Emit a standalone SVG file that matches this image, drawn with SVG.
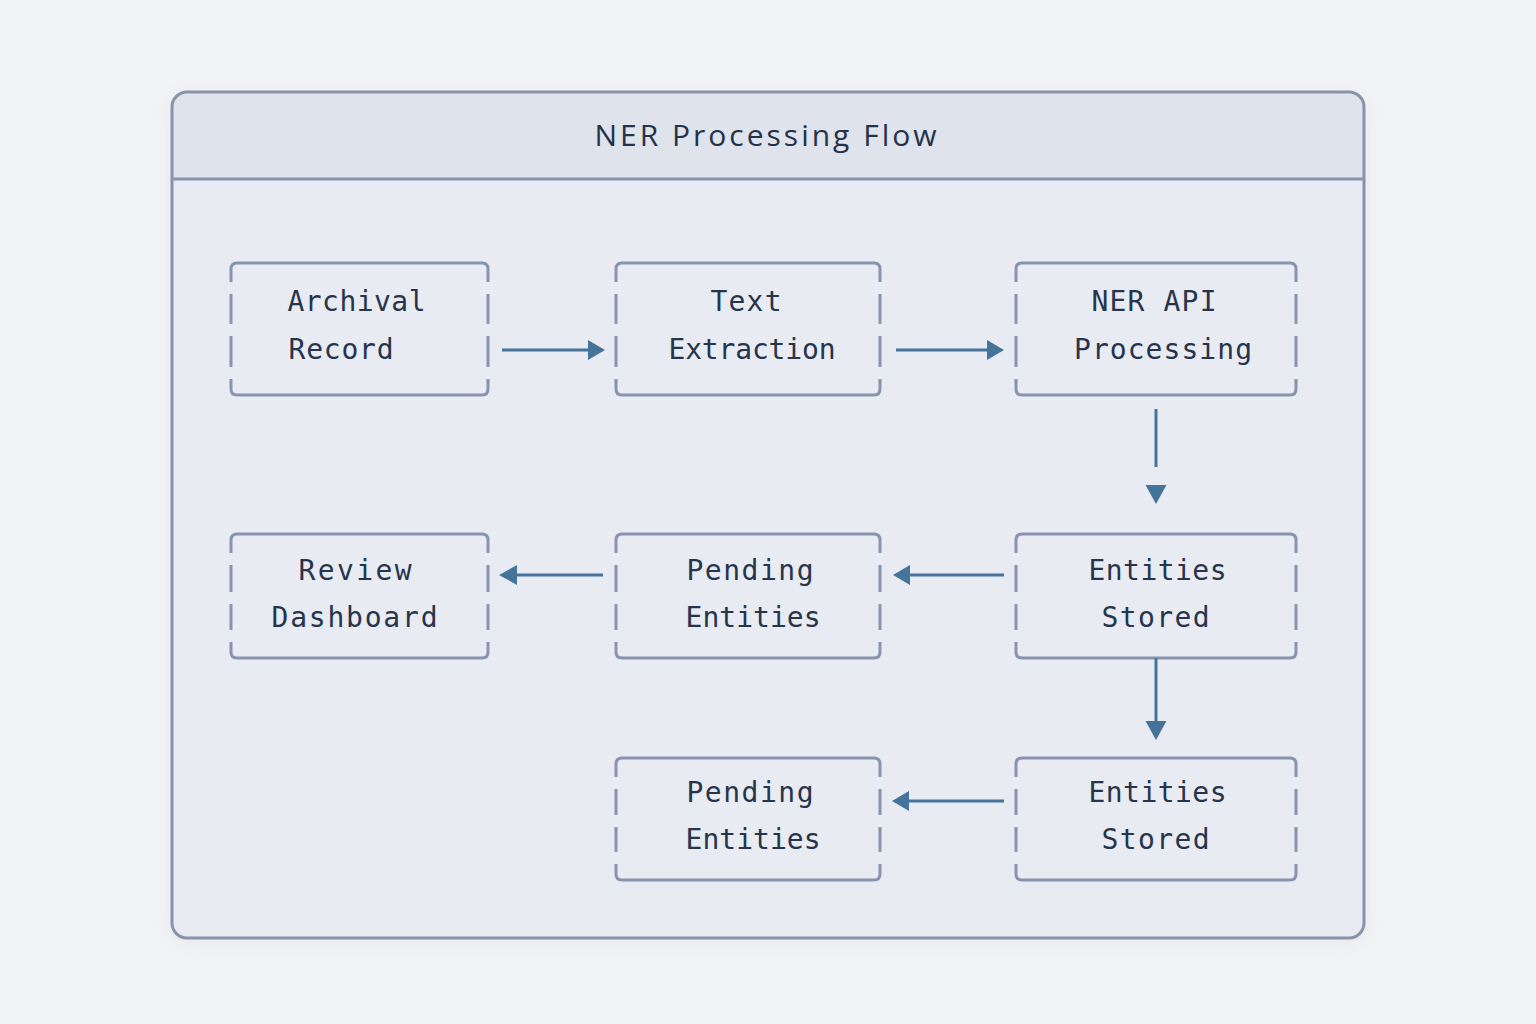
<svg xmlns="http://www.w3.org/2000/svg" width="1536" height="1024" viewBox="0 0 1536 1024">
<defs>
<style>
.bd{fill:none;stroke:#8794ac;stroke-width:3;stroke-linecap:butt}
.lbl{font-family:"DejaVu Sans Mono","Liberation Mono",monospace;font-size:28px;fill:#26344c;text-anchor:middle}
.ttl{font-family:"Open Sans","Noto Sans",sans-serif;font-size:30px;font-weight:500;letter-spacing:3px;fill:#24324a;text-anchor:middle}
.cn{stroke:#44739c;stroke-width:3;fill:none}
.ah{fill:#44739c}
</style>
<filter id="sh" x="-10%" y="-10%" width="120%" height="120%">
<feGaussianBlur stdDeviation="10"/>
</filter>
</defs>
<rect x="0" y="0" width="1536" height="1024" fill="#f2f3f5"/>
<g id="container">
<rect x="172" y="96" width="1192" height="846" rx="15" fill="#d8dce4" opacity="0.5" filter="url(#sh)"/>
<rect x="172" y="92" width="1192" height="846" rx="15" fill="#e8ebf1"/>
<path d="M172,179 V107 Q172,92 187,92 H1349 Q1364,92 1364,107 V179 Z" fill="#dfe3eb"/>
<rect x="172" y="92" width="1192" height="846" rx="15" fill="none" stroke="#8794ac" stroke-width="3"/>
<line x1="172" y1="179" x2="1364" y2="179" stroke="#8794ac" stroke-width="3"/>
<text class="ttl" x="767" y="146">NER Processing Flow</text>
</g>
<g id="archival-record">
<path class="bd" d="M231,282 V269 Q231,263 237,263 H482 Q488,263 488,269 V282 M231,379 V389 Q231,395 237,395 H482 Q488,395 488,389 V379 M231,294 V324 M231,336 V367 M488,294 V324 M488,336 V367"/>
<text class="lbl" x="287.5" y="311" style="text-anchor:start" textLength="138">Archival</text>
<text class="lbl" x="288.5" y="359" style="text-anchor:start" textLength="105">Record</text>
</g>
<g id="text-extraction">
<path class="bd" d="M616,282 V269 Q616,263 622,263 H874 Q880,263 880,269 V282 M616,379 V389 Q616,395 622,395 H874 Q880,395 880,389 V379 M616,294 V324 M616,336 V367 M880,294 V324 M880,336 V367"/>
<text class="lbl" x="746" y="311" textLength="71">Text</text>
<text class="lbl" x="752" y="359" textLength="167">Extraction</text>
</g>
<g id="ner-api">
<path class="bd" d="M1016,282 V269 Q1016,263 1022,263 H1290 Q1296,263 1296,269 V282 M1016,379 V389 Q1016,395 1022,395 H1290 Q1296,395 1296,389 V379 M1016,294 V324 M1016,336 V367 M1296,294 V324 M1296,336 V367"/>
<text class="lbl" x="1154" y="311" textLength="125">NER API</text>
<text class="lbl" x="1163" y="359" textLength="178">Processing</text>
</g>
<g id="review-dashboard">
<path class="bd" d="M231,553 V540 Q231,534 237,534 H482 Q488,534 488,540 V553 M231,642 V652 Q231,658 237,658 H482 Q488,658 488,652 V642 M231,565 V592 M231,604 V630 M488,565 V592 M488,604 V630"/>
<text class="lbl" x="355" y="580" textLength="113">Review</text>
<text class="lbl" x="354.5" y="627" textLength="166">Dashboard</text>
</g>
<g id="pending-entities-1">
<path class="bd" d="M616,553 V540 Q616,534 622,534 H874 Q880,534 880,540 V553 M616,642 V652 Q616,658 622,658 H874 Q880,658 880,652 V642 M616,565 V592 M616,604 V630 M880,565 V592 M880,604 V630"/>
<text class="lbl" x="750" y="580" textLength="127">Pending</text>
<text class="lbl" x="753" y="627" textLength="135">Entities</text>
</g>
<g id="entities-stored-1">
<path class="bd" d="M1016,553 V540 Q1016,534 1022,534 H1290 Q1296,534 1296,540 V553 M1016,642 V652 Q1016,658 1022,658 H1290 Q1296,658 1296,652 V642 M1016,565 V592 M1016,604 V630 M1296,565 V592 M1296,604 V630"/>
<text class="lbl" x="1157.5" y="580" textLength="138">Entities</text>
<text class="lbl" x="1155.5" y="627" textLength="108">Stored</text>
</g>
<g id="pending-entities-2">
<path class="bd" d="M616,777 V764 Q616,758 622,758 H874 Q880,758 880,764 V777 M616,864 V874 Q616,880 622,880 H874 Q880,880 880,874 V864 M616,789 V815 M616,827 V852 M880,789 V815 M880,827 V852"/>
<text class="lbl" x="750" y="802" textLength="127">Pending</text>
<text class="lbl" x="753" y="849" textLength="135">Entities</text>
</g>
<g id="entities-stored-2">
<path class="bd" d="M1016,777 V764 Q1016,758 1022,758 H1290 Q1296,758 1296,764 V777 M1016,864 V874 Q1016,880 1022,880 H1290 Q1296,880 1296,874 V864 M1016,789 V815 M1016,827 V852 M1296,789 V815 M1296,827 V852"/>
<text class="lbl" x="1157.5" y="802" textLength="138">Entities</text>
<text class="lbl" x="1155.5" y="849" textLength="108">Stored</text>
</g>
<g id="connectors">
<line class="cn" x1="502" y1="350" x2="590" y2="350"/>
<polygon class="ah" points="588,340 605,350 588,360"/>
<line class="cn" x1="896" y1="350" x2="989" y2="350"/>
<polygon class="ah" points="987,340 1004,350 987,360"/>
<line class="cn" x1="1156" y1="409" x2="1156" y2="467"/>
<polygon class="ah" points="1145.5,485 1166.5,485 1156,504"/>
<line class="cn" x1="1004" y1="575" x2="908" y2="575"/>
<polygon class="ah" points="910,565 893,575 910,585"/>
<line class="cn" x1="603" y1="575" x2="515" y2="575"/>
<polygon class="ah" points="517,565 499,575 517,585"/>
<line class="cn" x1="1156" y1="658" x2="1156" y2="723"/>
<polygon class="ah" points="1145.5,721 1166.5,721 1156,740"/>
<line class="cn" x1="1004" y1="801" x2="907" y2="801"/>
<polygon class="ah" points="909,791 892,801 909,811"/>
</g>
</svg>
